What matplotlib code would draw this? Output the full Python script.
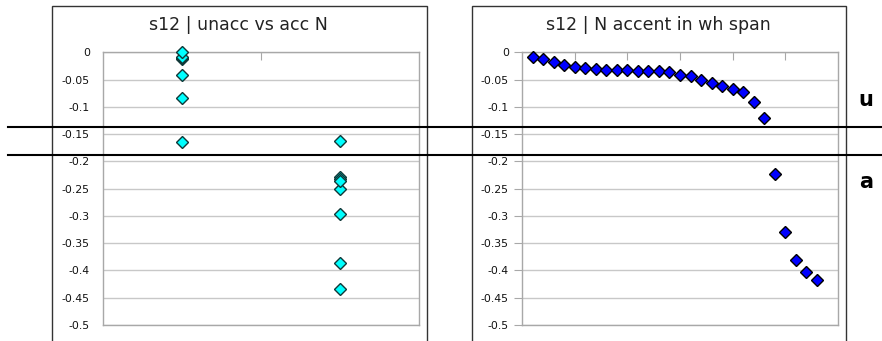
import matplotlib
matplotlib.use("Agg")
import matplotlib.pyplot as plt
from matplotlib.patches import Rectangle
from matplotlib.lines import Line2D

# ---- data ----
left_title = "s12 | unacc vs acc N"
right_title = "s12 | N accent in wh span"
left_cat1 = [-0.164, -0.084, -0.042, -0.013, -0.011, -0.008, 0.0]
left_cat2 = [-0.163, -0.229, -0.232, -0.251, -0.236, -0.296, -0.386, -0.434]
right_vals = [-0.008, -0.013, -0.017, -0.024, -0.027, -0.028, -0.031, -0.032,
              -0.032, -0.033, -0.034, -0.035, -0.035, -0.037, -0.041, -0.044,
              -0.051, -0.056, -0.061, -0.067, -0.073, -0.092, -0.120, -0.223,
              -0.329, -0.381, -0.402, -0.417]
yticks = [0, -0.05, -0.1, -0.15, -0.2, -0.25, -0.3, -0.35, -0.4, -0.45, -0.5]
ytick_labels = ["0", "-0.05", "-0.1", "-0.15", "-0.2", "-0.25", "-0.3",
                "-0.35", "-0.4", "-0.45", "-0.5"]
side_labels = ["u", "a"]

W, H = 882, 341
fig = plt.figure(figsize=(W / 100, H / 100), dpi=100)
plt.rcParams['font.family'] = ['DejaVu Sans']

def fx(px):
    return px / W

def fy(py):
    return 1 - py / H

grid_c = '#C8C8C8'
spine_c = '#A8A8A8'

def style(ax, ytick_len):
    ax.set_ylim(-0.5, 0)
    ax.set_yticks(yticks)
    ax.set_yticklabels(ytick_labels, fontsize=7.8, color='#111111')
    ax.yaxis.grid(True, color=grid_c, lw=1)
    ax.set_axisbelow(True)
    for s in ax.spines.values():
        s.set_color(spine_c)
        s.set_linewidth(1)
    ax.tick_params(axis='y', length=ytick_len, color=spine_c, pad=9.5 - ytick_len)
    ax.xaxis.tick_top()
    ax.tick_params(axis='x', direction='in', length=5.5, color=spine_c,
                   labeltop=False, labelbottom=False)

# left panel
axL = fig.add_axes([fx(103), fy(325), fx(316), (325 - 52.3) / H])
axL.set_xlim(0.5, 2.5)
axL.set_xticks([1.5])
style(axL, 0)
axL.plot([1] * len(left_cat1), left_cat1, linestyle='none', marker='D', ms=6.0,
         mfc='#00FFFF', mec='#103838', mew=1.0, clip_on=False, zorder=3)
axL.plot([2] * len(left_cat2), left_cat2, linestyle='none', marker='D', ms=6.0,
         mfc='#00FFFF', mec='#103838', mew=1.0, clip_on=False, zorder=3)

# right panel
axR = fig.add_axes([fx(522), fy(325), fx(316), (325 - 52.3) / H])
axR.set_xlim(0, 30)
axR.set_xticks([5, 10, 15, 20, 25])
style(axR, 6)
xs = list(range(1, len(right_vals) + 1))
axR.plot(xs, right_vals, linestyle='none', marker='D', ms=6.3,
         mfc='#0000FF', mec='#000000', mew=1.0, clip_on=False, zorder=3)

# titles
fig.text(fx(238.5), fy(24.5), left_title, ha='center', va='center', fontsize=12.5, color='#222222')
fig.text(fx(658.5), fy(24.5), right_title, ha='center', va='center', fontsize=12.5, color='#222222')

# chart frames
for x0, x1 in [(52, 427), (472, 846)]:
    fig.add_artist(Rectangle((fx(x0), fy(360)), fx(x1 - x0), (360 - 5.5) / H,
                             transform=fig.transFigure, fill=False,
                             edgecolor='#333333', lw=1.0))

# horizontal divider lines
for yy in [126.7, 155]:
    fig.add_artist(Line2D([fx(8), 1.0], [fy(yy), fy(yy)], transform=fig.transFigure,
                          color='black', lw=1.5))

# side labels
fig.text(fx(866), fy(100), side_labels[0], ha='center', va='center', fontsize=15,
         fontweight='bold', color='black')
fig.text(fx(866), fy(182), side_labels[1], ha='center', va='center', fontsize=15,
         fontweight='bold', color='black')

fig.savefig("out.png", dpi=100)
